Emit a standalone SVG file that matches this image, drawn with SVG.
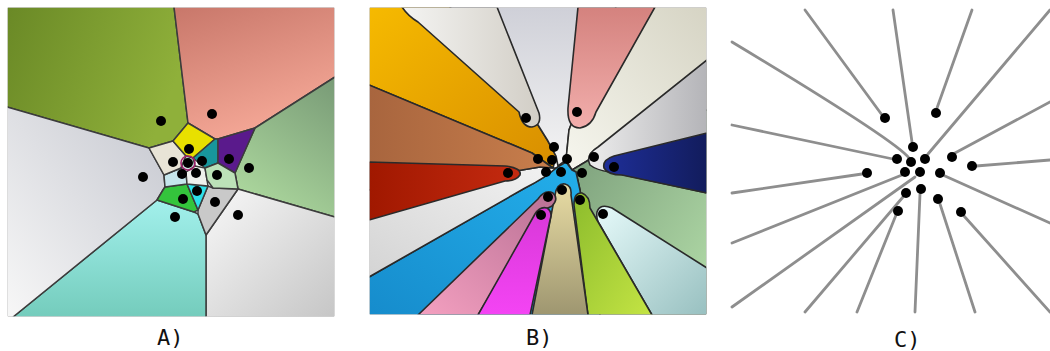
<svg xmlns="http://www.w3.org/2000/svg" width="1050" height="351" viewBox="0 0 1050 351">
<defs>
<clipPath id="clipA"><rect x="7.8" y="7.8" width="326.4" height="308.4"/></clipPath>
<clipPath id="clipB"><rect x="369.8" y="7.8" width="336.4" height="306.4"/></clipPath>
<linearGradient id="gOlive" x1="0" y1="0" x2="1" y2="0.3"><stop offset="0" stop-color="#6a8926"/><stop offset="1" stop-color="#8fb03a"/></linearGradient>
<linearGradient id="gSalmon" x1="0" y1="0" x2="0.4" y2="1"><stop offset="0" stop-color="#c8776a"/><stop offset="1" stop-color="#f4a796"/></linearGradient>
<linearGradient id="gGreenR" x1="1" y1="0" x2="0.5" y2="1"><stop offset="0" stop-color="#789a76"/><stop offset="1" stop-color="#a9d49b"/></linearGradient>
<linearGradient id="gGrayL" x1="1" y1="0" x2="0" y2="1"><stop offset="0" stop-color="#c6c8d0"/><stop offset="1" stop-color="#f7f7f7"/></linearGradient>
<linearGradient id="gCyan" x1="0" y1="0" x2="0" y2="1"><stop offset="0" stop-color="#a2f0ec"/><stop offset="1" stop-color="#74ccbc"/></linearGradient>
<linearGradient id="gWhiteBR" x1="0" y1="0" x2="1" y2="1"><stop offset="0" stop-color="#f8f8f8"/><stop offset="1" stop-color="#c6c6c6"/></linearGradient>
<linearGradient id="gOrange" x1="0" y1="0" x2="1" y2="1"><stop offset="0" stop-color="#f6ba00"/><stop offset="1" stop-color="#d88e00"/></linearGradient>
<linearGradient id="gBrown" x1="0" y1="0" x2="1" y2="0"><stop offset="0" stop-color="#a8653e"/><stop offset="1" stop-color="#c87e4c"/></linearGradient>
<linearGradient id="gWhiteLeaf" x1="0" y1="0" x2="1" y2="0"><stop offset="0" stop-color="#f4f4f2"/><stop offset="1" stop-color="#d2cec6"/></linearGradient>
<linearGradient id="gGrayTop" x1="0" y1="0" x2="0" y2="1"><stop offset="0" stop-color="#cfd0d8"/><stop offset="1" stop-color="#f4f4f4"/></linearGradient>
<linearGradient id="gPink" x1="0" y1="0" x2="0" y2="1"><stop offset="0" stop-color="#d4827e"/><stop offset="1" stop-color="#f2aeac"/></linearGradient>
<linearGradient id="gCream" x1="0" y1="1" x2="1" y2="0"><stop offset="0" stop-color="#f6f6ee"/><stop offset="1" stop-color="#d6d4c4"/></linearGradient>
<linearGradient id="gGrayR" x1="0" y1="0" x2="1" y2="0"><stop offset="0" stop-color="#ececec"/><stop offset="1" stop-color="#b4b4b8"/></linearGradient>
<linearGradient id="gNavy" x1="0" y1="0" x2="1" y2="0"><stop offset="0" stop-color="#1e2e98"/><stop offset="1" stop-color="#121c5c"/></linearGradient>
<linearGradient id="gSage" x1="0" y1="0" x2="1" y2="1"><stop offset="0" stop-color="#789a78"/><stop offset="1" stop-color="#b2dca8"/></linearGradient>
<linearGradient id="gLCyan" x1="0" y1="0" x2="1" y2="1"><stop offset="0" stop-color="#e6fafa"/><stop offset="1" stop-color="#98c0c0"/></linearGradient>
<linearGradient id="gYG" x1="0" y1="0" x2="1" y2="1"><stop offset="0" stop-color="#8cbc2c"/><stop offset="1" stop-color="#c4e444"/></linearGradient>
<linearGradient id="gKhaki" x1="0" y1="0" x2="0" y2="1"><stop offset="0" stop-color="#e8dca4"/><stop offset="1" stop-color="#9e9670"/></linearGradient>
<linearGradient id="gMag" x1="0" y1="0" x2="0" y2="1"><stop offset="0" stop-color="#d838d8"/><stop offset="1" stop-color="#f444f4"/></linearGradient>
<linearGradient id="gMauve" x1="1" y1="0" x2="0" y2="1"><stop offset="0" stop-color="#b87094"/><stop offset="1" stop-color="#f4a0c0"/></linearGradient>
<linearGradient id="gRed" x1="0" y1="0" x2="1" y2="0"><stop offset="0" stop-color="#a01800"/><stop offset="1" stop-color="#c42a10"/></linearGradient>
<linearGradient id="gWG" x1="1" y1="0" x2="0" y2="1"><stop offset="0" stop-color="#f2f2f2"/><stop offset="1" stop-color="#d4d4d4"/></linearGradient>
<linearGradient id="gBlue" x1="1" y1="0" x2="0" y2="1"><stop offset="0" stop-color="#24b0ec"/><stop offset="1" stop-color="#168ccc"/></linearGradient>
</defs>
<style>
.ca{stroke:#3c3c3c;stroke-width:1.5;stroke-linejoin:round}
.cb{stroke:#2a2a2a;stroke-width:1.6;stroke-linejoin:round}
.dot{fill:#000}
.ln{fill:none;stroke:#8e8e8e;stroke-width:2.8;stroke-linecap:round}
.lbl{font-family:"DejaVu Sans Mono","Liberation Mono",monospace;font-size:22px;fill:#111}
</style>
<rect width="1050" height="351" fill="#fff"/>

<g id="panelA" clip-path="url(#clipA)">
<polygon class="ca" fill="url(#gOlive)" points="7,7 174,7 188,123 173,141 149,148 7,107"/>
<polygon class="ca" fill="url(#gSalmon)" points="174,7 335,7 335,77 255,128 218,139 215,139 188,123"/>
<polygon class="ca" fill="url(#gGreenR)" points="335,77 335,217 238,189 235,173 255,128"/>
<polygon class="ca" fill="url(#gWhiteBR)" points="238,189 335,217 335,317 206,317 206,235"/>
<polygon class="ca" fill="url(#gCyan)" points="157,200 194,212 198,214 206,235 206,317 13,317"/>
<polygon class="ca" fill="url(#gGrayL)" points="7,107 149,148 164,175 165,187 163,190 157,200 13,317 7,317"/>
<polygon class="ca" fill="#c9c9c9" points="208,186 213,188 238,189 206,235 198,214 198,210"/>
<polygon class="ca" fill="#34c43c" points="163,190 165,187 187,184 198,210 194,212 157,200"/>
<polygon class="ca" fill="#2ee0ea" points="187,184 208,186 198,210"/>
<polygon class="ca" fill="#c6e6ec" points="164,175 181,168 186,172 187,184 165,187"/>
<polygon class="ca" fill="#eef0ec" points="186,172 195,166 205,168 207,180 208,186 187,184"/>
<polygon class="ca" fill="#e8e4d6" points="149,148 173,141 186,156 181,168 164,175"/>
<polygon class="ca" fill="#e8e000" points="188,123 215,139 193,158 186,156 173,141"/>
<polygon class="ca" fill="#18969c" points="215,139 218,139 218,163 205,168 193,158"/>
<polygon class="ca" fill="#5a1a8c" points="218,139 255,128 235,173 218,163"/>
<polygon class="ca" fill="#bce2b8" points="218,163 235,173 238,189 213,188 207,180 205,168"/>
<polygon class="ca" fill="#d6e6e6" points="181,168 186,156 193,158 195,166 186,172"/>
<circle cx="188" cy="163" r="7" fill="none" stroke="#a0206c" stroke-width="1.6"/>
<g class="dot">
<circle cx="161" cy="121" r="5"/><circle cx="212" cy="114" r="5"/><circle cx="189" cy="149" r="5"/>
<circle cx="173" cy="162" r="5"/><circle cx="188" cy="163" r="5"/><circle cx="202" cy="161" r="5"/>
<circle cx="229" cy="159" r="5"/><circle cx="249" cy="168" r="5"/><circle cx="143" cy="177" r="5"/>
<circle cx="182" cy="174" r="5"/><circle cx="196" cy="173" r="5"/><circle cx="217" cy="175" r="5"/>
<circle cx="197" cy="191" r="5"/><circle cx="183" cy="199" r="5"/><circle cx="215" cy="202" r="5"/>
<circle cx="175" cy="217" r="5"/><circle cx="238" cy="215" r="5"/>
</g>
</g>

<g id="panelB" clip-path="url(#clipB)">
<path class="cb" fill="url(#gOrange)" d="M369,7 L450,7 L538,125 Q548,140 556,156 L553,168 L532,153 L369,85 Z"/>
<path class="cb" fill="url(#gGrayTop)" d="M450,7 L616,7 L569,130 L566,160 L558,166 L556,156 Q548,140 538,125 Z"/>
<path class="cb" fill="url(#gCream)" d="M616,7 L707,7 L707,110 L592,158 L572,170 L566,160 L569,130 Z"/>
<path class="cb" fill="url(#gSage)" d="M707,110 L707,315 L600,315 L580,190 L576,172 L572,170 L592,158 Z"/>
<path class="cb" fill="url(#gBlue)" d="M600,315 L369,315 L369,277 L525,188 Q545,178 556,168 L566,162 L572,170 L576,172 L580,190 Z"/>
<path class="cb" fill="url(#gWG)" d="M369,277 L369,190 L510,172 L540,167 L553,168 L556,168 Q545,178 525,188 Z"/>
<path class="cb" fill="url(#gBrown)" d="M369,85 L532,153 L553,168 L540,167 L510,172 L369,190 Z"/>
<path class="cb" fill="url(#gWhiteLeaf)" d="M402,7 Q408,16 418,22 L519,112 Q522,127 532,127 Q542,125 539,113 L497,7 Z"/>
<path class="cb" fill="url(#gPink)" d="M578,7 L568,108 Q567,128 580,128 Q592,126 596,112 L655,7 Z"/>
<path class="cb" fill="url(#gRed)" d="M369,162 L505,166 Q522,168 520,175 Q516,181 505,181 L369,220 Z"/>
<path class="cb" fill="url(#gGrayR)" d="M707,60 L598,147 Q585,155 590,165 Q596,170 610,172 L707,193 Z"/>
<path class="cb" fill="url(#gNavy)" d="M707,133 L614,156 Q602,160 604,168 Q608,175 622,175 L707,193 Z"/>
<path class="cb" fill="url(#gLCyan)" d="M707,268 L612,208 Q600,203 597,212 Q596,220 600,225 L652,315 L707,315 Z"/>
<path class="cb" fill="url(#gYG)" d="M588,315 L574,205 Q574,192 582,193 Q590,196 590,208 L652,315 Z"/>
<path class="cb" fill="url(#gKhaki)" d="M532,315 L555,195 Q557,183 565,184 Q572,186 571,195 L588,315 Z"/>
<path class="cb" fill="url(#gMauve)" d="M418,315 L538,199 Q545,189 553,193 Q559,199 552,206 L540,212 L478,315 Z"/>
<path class="cb" fill="url(#gMag)" d="M478,315 L535,214 Q540,206 547,208 Q553,212 550,220 L530,315 Z"/>
<g class="dot">
<circle cx="526" cy="118" r="5"/><circle cx="577" cy="112" r="5"/><circle cx="554" cy="147" r="5"/>
<circle cx="538" cy="159" r="5"/><circle cx="552" cy="160" r="5"/><circle cx="567" cy="159" r="5"/>
<circle cx="594" cy="157" r="5"/><circle cx="614" cy="167" r="5"/><circle cx="508" cy="173" r="5"/>
<circle cx="546" cy="172" r="5"/><circle cx="561" cy="172" r="5"/><circle cx="582" cy="173" r="5"/>
<circle cx="562" cy="190" r="5"/><circle cx="548" cy="197" r="5"/><circle cx="580" cy="200" r="5"/>
<circle cx="541" cy="215" r="5"/><circle cx="603" cy="214" r="5"/>
</g>
</g>

<g id="panelC">
<g id="connectors">
<path class="ln" d="M805,10 L882,115"/>
<path class="ln" d="M893,10 L912,142"/>
<path class="ln" d="M972,10 L937,108"/>
<path class="ln" d="M1050,10 L928,154"/>
<path class="ln" d="M1050,102 L955,153"/>
<path class="ln" d="M1050,160 L976,166"/>
<path class="ln" d="M1050,223 L945,176"/>
<path class="ln" d="M1050,312 L964,216"/>
<path class="ln" d="M975,312 L940,204"/>
<path class="ln" d="M915,312 L920,194"/>
<path class="ln" d="M857,312 L896,215"/>
<path class="ln" d="M805,312 L903,197"/>
<path class="ln" d="M732,307 L915,177"/>
<path class="ln" d="M732,243 L902,175"/>
<path class="ln" d="M732,193 L862,174"/>
<path class="ln" d="M732,125 L893,159"/>
<path class="ln" d="M732,42 Q895,140 909,158"/>
</g>
<g class="dot">
<circle cx="885" cy="118" r="5"/><circle cx="936" cy="113" r="5"/><circle cx="913" cy="147" r="5"/>
<circle cx="897" cy="159" r="5"/><circle cx="911" cy="162" r="5"/><circle cx="925" cy="159" r="5"/>
<circle cx="952" cy="157" r="5"/><circle cx="972" cy="166" r="5"/><circle cx="867" cy="173" r="5"/>
<circle cx="905" cy="172" r="5"/><circle cx="920" cy="172" r="5"/><circle cx="940" cy="173" r="5"/>
<circle cx="921" cy="189" r="5"/><circle cx="906" cy="193" r="5"/><circle cx="938" cy="199" r="5"/>
<circle cx="898" cy="211" r="5"/><circle cx="961" cy="212" r="5"/>
</g>
</g>

<g id="labels">
<text class="lbl" x="157" y="345">A)</text>
<text class="lbl" x="526" y="345">B)</text>
<text class="lbl" x="894" y="347">C)</text>
</g>
</svg>
